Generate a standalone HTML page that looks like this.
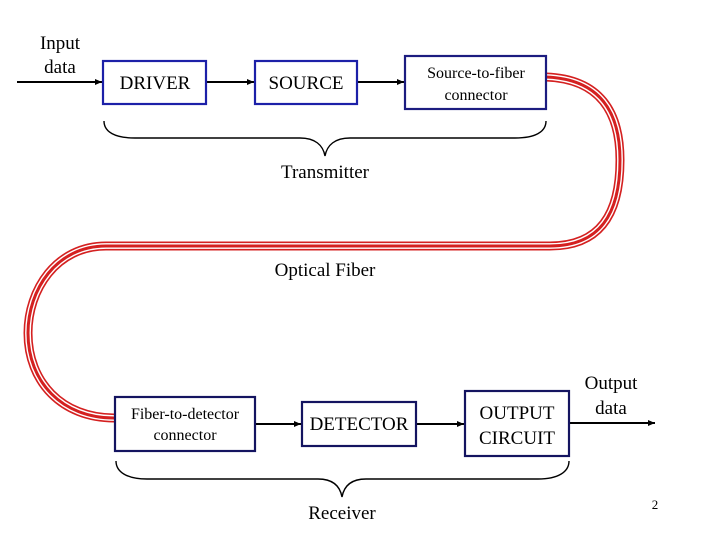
<!DOCTYPE html>
<html><head><style>
html,body{margin:0;padding:0;background:#fff;}
svg{display:block;}
text{font-family:"Liberation Serif",serif;fill:#000;}
</style></head><body>
<svg width="720" height="540" viewBox="0 0 720 540" xmlns="http://www.w3.org/2000/svg">
<defs>
<marker id="a" markerWidth="8" markerHeight="8" refX="7" refY="4" orient="auto" markerUnits="userSpaceOnUse">
<path d="M0,1 L7,4 L0,7 Z" fill="#000"/>
</marker>
</defs>
<g fill="none">
<path d="M546,77 C600,79 620,112 620,160 C620,214 600,246 550,246 L106,246 C56,246 28,290 28,333 C28,382 62,418 114,418" stroke="#d42020" stroke-width="9"/>
<path d="M546,77 C600,79 620,112 620,160 C620,214 600,246 550,246 L106,246 C56,246 28,290 28,333 C28,382 62,418 114,418" stroke="#fff" stroke-width="5.8"/>
<path d="M546,77 C600,79 620,112 620,160 C620,214 600,246 550,246 L106,246 C56,246 28,290 28,333 C28,382 62,418 114,418" stroke="#d42020" stroke-width="3"/>
</g>
<g stroke="#000" stroke-width="2" fill="none">
<line x1="17" y1="82" x2="102" y2="82" marker-end="url(#a)"/>
<line x1="207" y1="82" x2="254" y2="82" marker-end="url(#a)"/>
<line x1="358" y1="82" x2="404" y2="82" marker-end="url(#a)"/>
<line x1="256" y1="424" x2="301" y2="424" marker-end="url(#a)"/>
<line x1="417" y1="424" x2="464" y2="424" marker-end="url(#a)"/>
<line x1="570" y1="423" x2="655" y2="423" marker-end="url(#a)"/>
</g>
<g fill="#fff" stroke-width="2.2">
<rect x="103" y="61" width="103" height="43" stroke="#1c20a8"/>
<rect x="255" y="61" width="102" height="43" stroke="#1c20a8"/>
<rect x="405" y="56" width="141" height="53" stroke="#1c1c80"/>
<rect x="115" y="397" width="140" height="54" stroke="#141460"/>
<rect x="302" y="402" width="114" height="44" stroke="#141460"/>
<rect x="465" y="391" width="104" height="65" stroke="#141460"/>
</g>
<g stroke="#000" stroke-width="1.4" fill="none">
<path d="M104,121 C104,132 115,138 135,138 L300,138 C315,138 323,145 325,156 C327,145 335,138 350,138 L515,138 C535,138 546,132 546,121"/>
<path d="M116,461 C116,472 127,479 147,479 L318,479 C333,479 340,486 342,497 C344,486 351,479 366,479 L538,479 C558,479 569,472 569,461"/>
</g>
<g font-size="19">
<text x="60" y="49" text-anchor="middle">Input</text>
<text x="60" y="73" text-anchor="middle">data</text>
<text x="155" y="89" text-anchor="middle">DRIVER</text>
<text x="306" y="89" text-anchor="middle">SOURCE</text>
<text x="325" y="178" text-anchor="middle">Transmitter</text>
<text x="325" y="276" text-anchor="middle">Optical Fiber</text>
<text x="359" y="430" text-anchor="middle">DETECTOR</text>
<text x="517" y="419" text-anchor="middle">OUTPUT</text>
<text x="517" y="444" text-anchor="middle">CIRCUIT</text>
<text x="611" y="389" text-anchor="middle">Output</text>
<text x="611" y="414" text-anchor="middle">data</text>
<text x="342" y="519" text-anchor="middle">Receiver</text>
</g>
<g font-size="16">
<text x="476" y="78" text-anchor="middle">Source-to-fiber</text>
<text x="476" y="100" text-anchor="middle">connector</text>
<text x="185" y="419" text-anchor="middle">Fiber-to-detector</text>
<text x="185" y="440" text-anchor="middle">connector</text>
</g>
<text x="655" y="509" font-size="13" text-anchor="middle">2</text>
</svg>
</body></html>
